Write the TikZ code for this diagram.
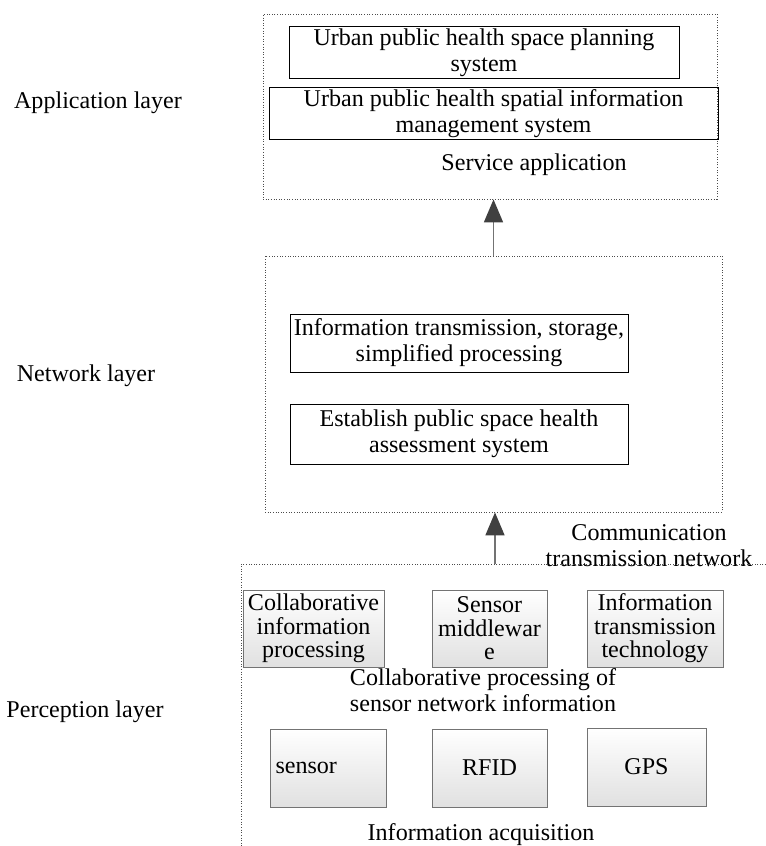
\documentclass[tikz,border=0pt]{standalone}
\usepackage{fontspec}
\setmainfont{Liberation Serif}
\usetikzlibrary{arrows.meta}

\tikzset{
    layer/.style={draw=black!70, densely dotted, line width=0.5pt},
    plain/.style={draw, thin, align=center, inner sep=1pt},
    greybox/.style={draw=black!55, thin, top color=white, bottom color=black!12, align=center, inner sep=1pt,
        font=\fontsize{13.7}{13.4}\selectfont},
    caption/.style={align=center, inner sep=0pt},
    uparrow/.style={draw=black!55, line width=1pt, -{Triangle[length=0.46cm, width=0.38cm, color=black!75]}},
}

\begin{document}
\begin{tikzpicture}[x=0.02cm, y=-0.02cm, font=\fontsize{13.7}{14.8}\selectfont]
    \useasboundingbox (0,0) rectangle (766,846);

    % application layer
    \node[layer, minimum width=9.08cm, minimum height=3.7cm] (appbox) at (490,106.5) {};
    \node[plain, minimum width=7.8cm, minimum height=0.98cm] (plan) at (484,52.5)
        {Urban public health space planning\\system};
    \node[plain, minimum width=8.98cm, minimum height=0.98cm] (manage) at (493.5,113.5)
        {Urban public health spatial information\\management system};
    \node[caption] (service) at (534,165) {Service application};
    \node[caption] (applab) at (98,103) {Application layer};

    % network layer
    \node[layer, minimum width=9.14cm, minimum height=5.12cm] (netbox) at (493.5,384) {};
    \node[plain, minimum width=6.76cm, minimum height=1.16cm] (trans) at (459,343)
        {Information transmission, storage,\\simplified processing};
    \node[plain, minimum width=6.76cm, minimum height=1.2cm] (assess) at (459,434)
        {Establish public space health\\assessment system};
    \node[caption] (netlab) at (86,376) {Network layer};
    \node[caption] (comm) at (649,546) {Communication\\transmission network};

    % perception layer
    \draw[layer] (766,564) -- (241,564) -- (241,846);
    \coordinate (ptop) at (495,564);
    \node[greybox, minimum width=2.82cm, minimum height=1.54cm] (collab) at (313.5,628.5)
        {Collaborative\\information\\processing};
    \node[greybox, minimum width=2.3cm, minimum height=1.54cm] (middle) at (489.5,628.5)
        {Sensor\\middlewar\\e};
    \node[greybox, minimum width=2.72cm, minimum height=1.54cm] (tech) at (655,628.5)
        {Information\\transmission\\technology};
    \node[caption] (cpsn) at (483,690) {Collaborative processing of\\sensor network information};
    \node[greybox, minimum width=2.32cm, minimum height=1.56cm, align=left, text width=2.1cm] (sensor) at (328,768) {sensor};
    \node[greybox, minimum width=2.3cm, minimum height=1.56cm] (rfid) at (489.5,768) {RFID};
    \node[greybox, minimum width=2.38cm, minimum height=1.56cm] (gps) at (646.5,767) {GPS};
    \node[caption] (acq) at (481,835) {Information acquisition};
    \node[caption] (perclab) at (85,712) {Perception layer};

    % arrows
    \draw[uparrow] (netbox.north) -- (netbox.north |- appbox.south);
    \draw[uparrow] (ptop) -- (ptop |- netbox.south);
\end{tikzpicture}
\end{document}
